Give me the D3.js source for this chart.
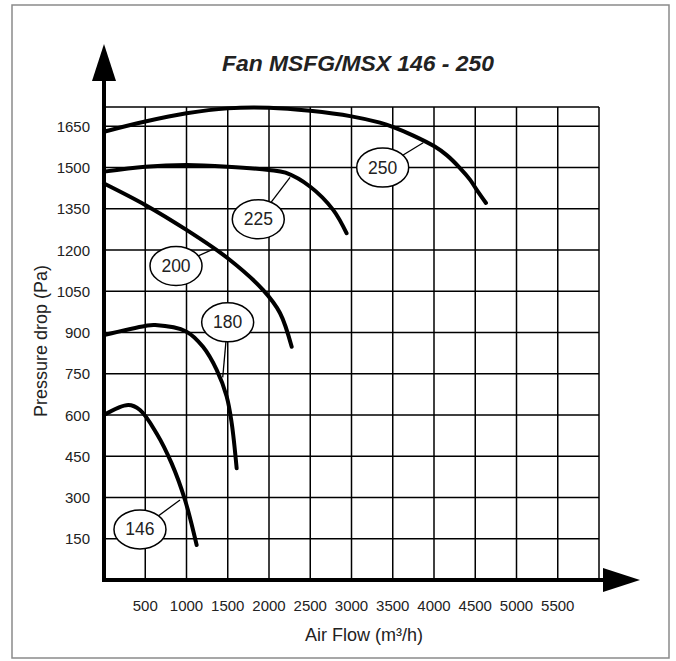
<!DOCTYPE html>
<html><head><meta charset="utf-8">
<script src="https://cdn.jsdelivr.net/npm/d3@7"></script>
<style>body{margin:0;background:#fff}svg{display:block}text{font-family:"Liberation Sans",Arial,sans-serif}</style>
</head><body><div id="chart"></div>
<script>
const title = "Fan MSFG/MSX 146 - 250";
const xLabel = "Air Flow (m³/h)";
const yLabel = "Pressure drop (Pa)";
const xTicks = [500,1000,1500,2000,2500,3000,3500,4000,4500,5000,5500];
const yTicks = [150,300,450,600,750,900,1050,1200,1350,1500,1650];
const xGrid = [500,1000,1500,2000,2500,3000,3500,4000,4500,5000,5500,6000];
const yGrid = [150,300,450,600,750,900,1050,1200,1350,1500,1650,1720];

const fan146 = [[0,600],[295,636],[436,618],[638,533],[820,424],[982,291],[1123,127]];
const fan180 = [[0,891],[500,924],[620,927],[1000,903],[1200,848],[1366,764],[1487,667],[1548,570],[1608,406]];
const fan200 = [[0,1442],[500,1364],[1000,1273],[1500,1170],[1927,1055],[2133,971],[2275,848]];
const fan225 = [[0,1485],[500,1503],[1000,1509],[1500,1503],[2000,1491],[2200,1481],[2500,1430],[2780,1345],[2940,1261]];
const fan250 = [[0,1630],[500,1667],[1000,1697],[1500,1715],[2000,1717],[2500,1706],[3000,1686],[3345,1663],[3507,1647],[3749,1616],[4004,1577],[4154,1545],[4315,1498],[4436,1456],[4518,1419],[4630,1371]];

const seriesNames = ["146","180","200","225","250"];
const seriesData = [fan146, fan180, fan200, fan225, fan250];
// label bubble centre and leader end point, in data units
const labelCentres = [[436,184],[1499,937],[873,1142],[1870,1312],[3378,1500]];
const leaderEnds = [[921,291],[1439,737],[1345,1206],[2255,1464],[3869,1590]];

const W = 676, H = 661;
const svg = d3.select("#chart").append("svg").attr("width", W).attr("height", H);

const x = d3.scaleLinear().domain([0, 6000]).range([104, 599]);
const y = d3.scaleLinear().domain([0, 1650]).range([580, 126.25]);

// frame
svg.append("rect").attr("x", 12).attr("y", 5).attr("width", 657).attr("height", 653)
  .attr("fill", "none").attr("stroke", "#8a8a8a").attr("stroke-width", 1.5);

// grid
const g = svg.append("g");
g.selectAll(".vg").data(xGrid).join("line")
  .attr("x1", d => x(d)).attr("x2", d => x(d))
  .attr("y1", y(1720)).attr("y2", y(0))
  .attr("stroke", "#000").attr("stroke-width", 1.5);
g.selectAll(".hg").data(yGrid).join("line")
  .attr("x1", x(0)).attr("x2", x(6000))
  .attr("y1", d => y(d)).attr("y2", d => y(d))
  .attr("stroke", "#000").attr("stroke-width", 1.5);

// axes lines with arrows
svg.append("line").attr("x1", x(0)).attr("x2", x(0)).attr("y1", y(0) + 2).attr("y2", 70)
  .attr("stroke", "#000").attr("stroke-width", 4);
svg.append("path").attr("d", `M${x(0)},44 L${x(0) - 12},81 L${x(0) + 12},81 Z`).attr("fill", "#000");
svg.append("line").attr("x1", x(0) - 2).attr("x2", 615).attr("y1", y(0)).attr("y2", y(0))
  .attr("stroke", "#000").attr("stroke-width", 4);
svg.append("path").attr("d", `M640,${y(0)} L603,${y(0) - 12} L603,${y(0) + 12} Z`).attr("fill", "#000");

// tick labels
svg.selectAll(".xt").data(xTicks).join("text")
  .attr("x", d => x(d)).attr("y", 611).attr("text-anchor", "middle")
  .attr("font-size", 15).attr("fill", "#222").text(d => d);
svg.selectAll(".yt").data(yTicks).join("text")
  .attr("x", 90).attr("y", d => y(d) + 5.5).attr("text-anchor", "end")
  .attr("font-size", 15).attr("fill", "#222").text(d => d);

// axis titles
svg.append("text").attr("x", 364).attr("y", 641).attr("text-anchor", "middle")
  .attr("font-size", 18).attr("fill", "#222").text(xLabel);
svg.append("text").attr("transform", "translate(47,341) rotate(-90)").attr("text-anchor", "middle")
  .attr("font-size", 18).attr("fill", "#222").text(yLabel);

// title
svg.append("text").attr("x", 358).attr("y", 71).attr("text-anchor", "middle")
  .attr("font-size", 22).attr("font-weight", "bold").attr("font-style", "italic")
  .attr("textLength", 272).attr("lengthAdjust", "spacingAndGlyphs")
  .attr("fill", "#222").text(title);

// curves
const line = d3.line().x(d => x(d[0])).y(d => y(d[1])).curve(d3.curveCatmullRom.alpha(0.5));
svg.selectAll(".curve").data(seriesData).join("path")
  .attr("d", line).attr("fill", "none").attr("stroke", "#000")
  .attr("stroke-width", 4).attr("stroke-linecap", "round");

// labels
seriesNames.forEach((n, i) => {
  const c = labelCentres[i], e = leaderEnds[i];
  svg.append("line").attr("x1", x(c[0])).attr("y1", y(c[1])).attr("x2", x(e[0])).attr("y2", y(e[1]))
    .attr("stroke", "#000").attr("stroke-width", 1.3);
  svg.append("ellipse").attr("cx", x(c[0])).attr("cy", y(c[1])).attr("rx", 26).attr("ry", 19.5)
    .attr("fill", "#fff").attr("stroke", "#000").attr("stroke-width", 1.5);
  svg.append("text").attr("x", x(c[0])).attr("y", y(c[1]) + 6).attr("text-anchor", "middle")
    .attr("font-size", 17.5).attr("fill", "#222").text(n);
});
</script></body></html>
